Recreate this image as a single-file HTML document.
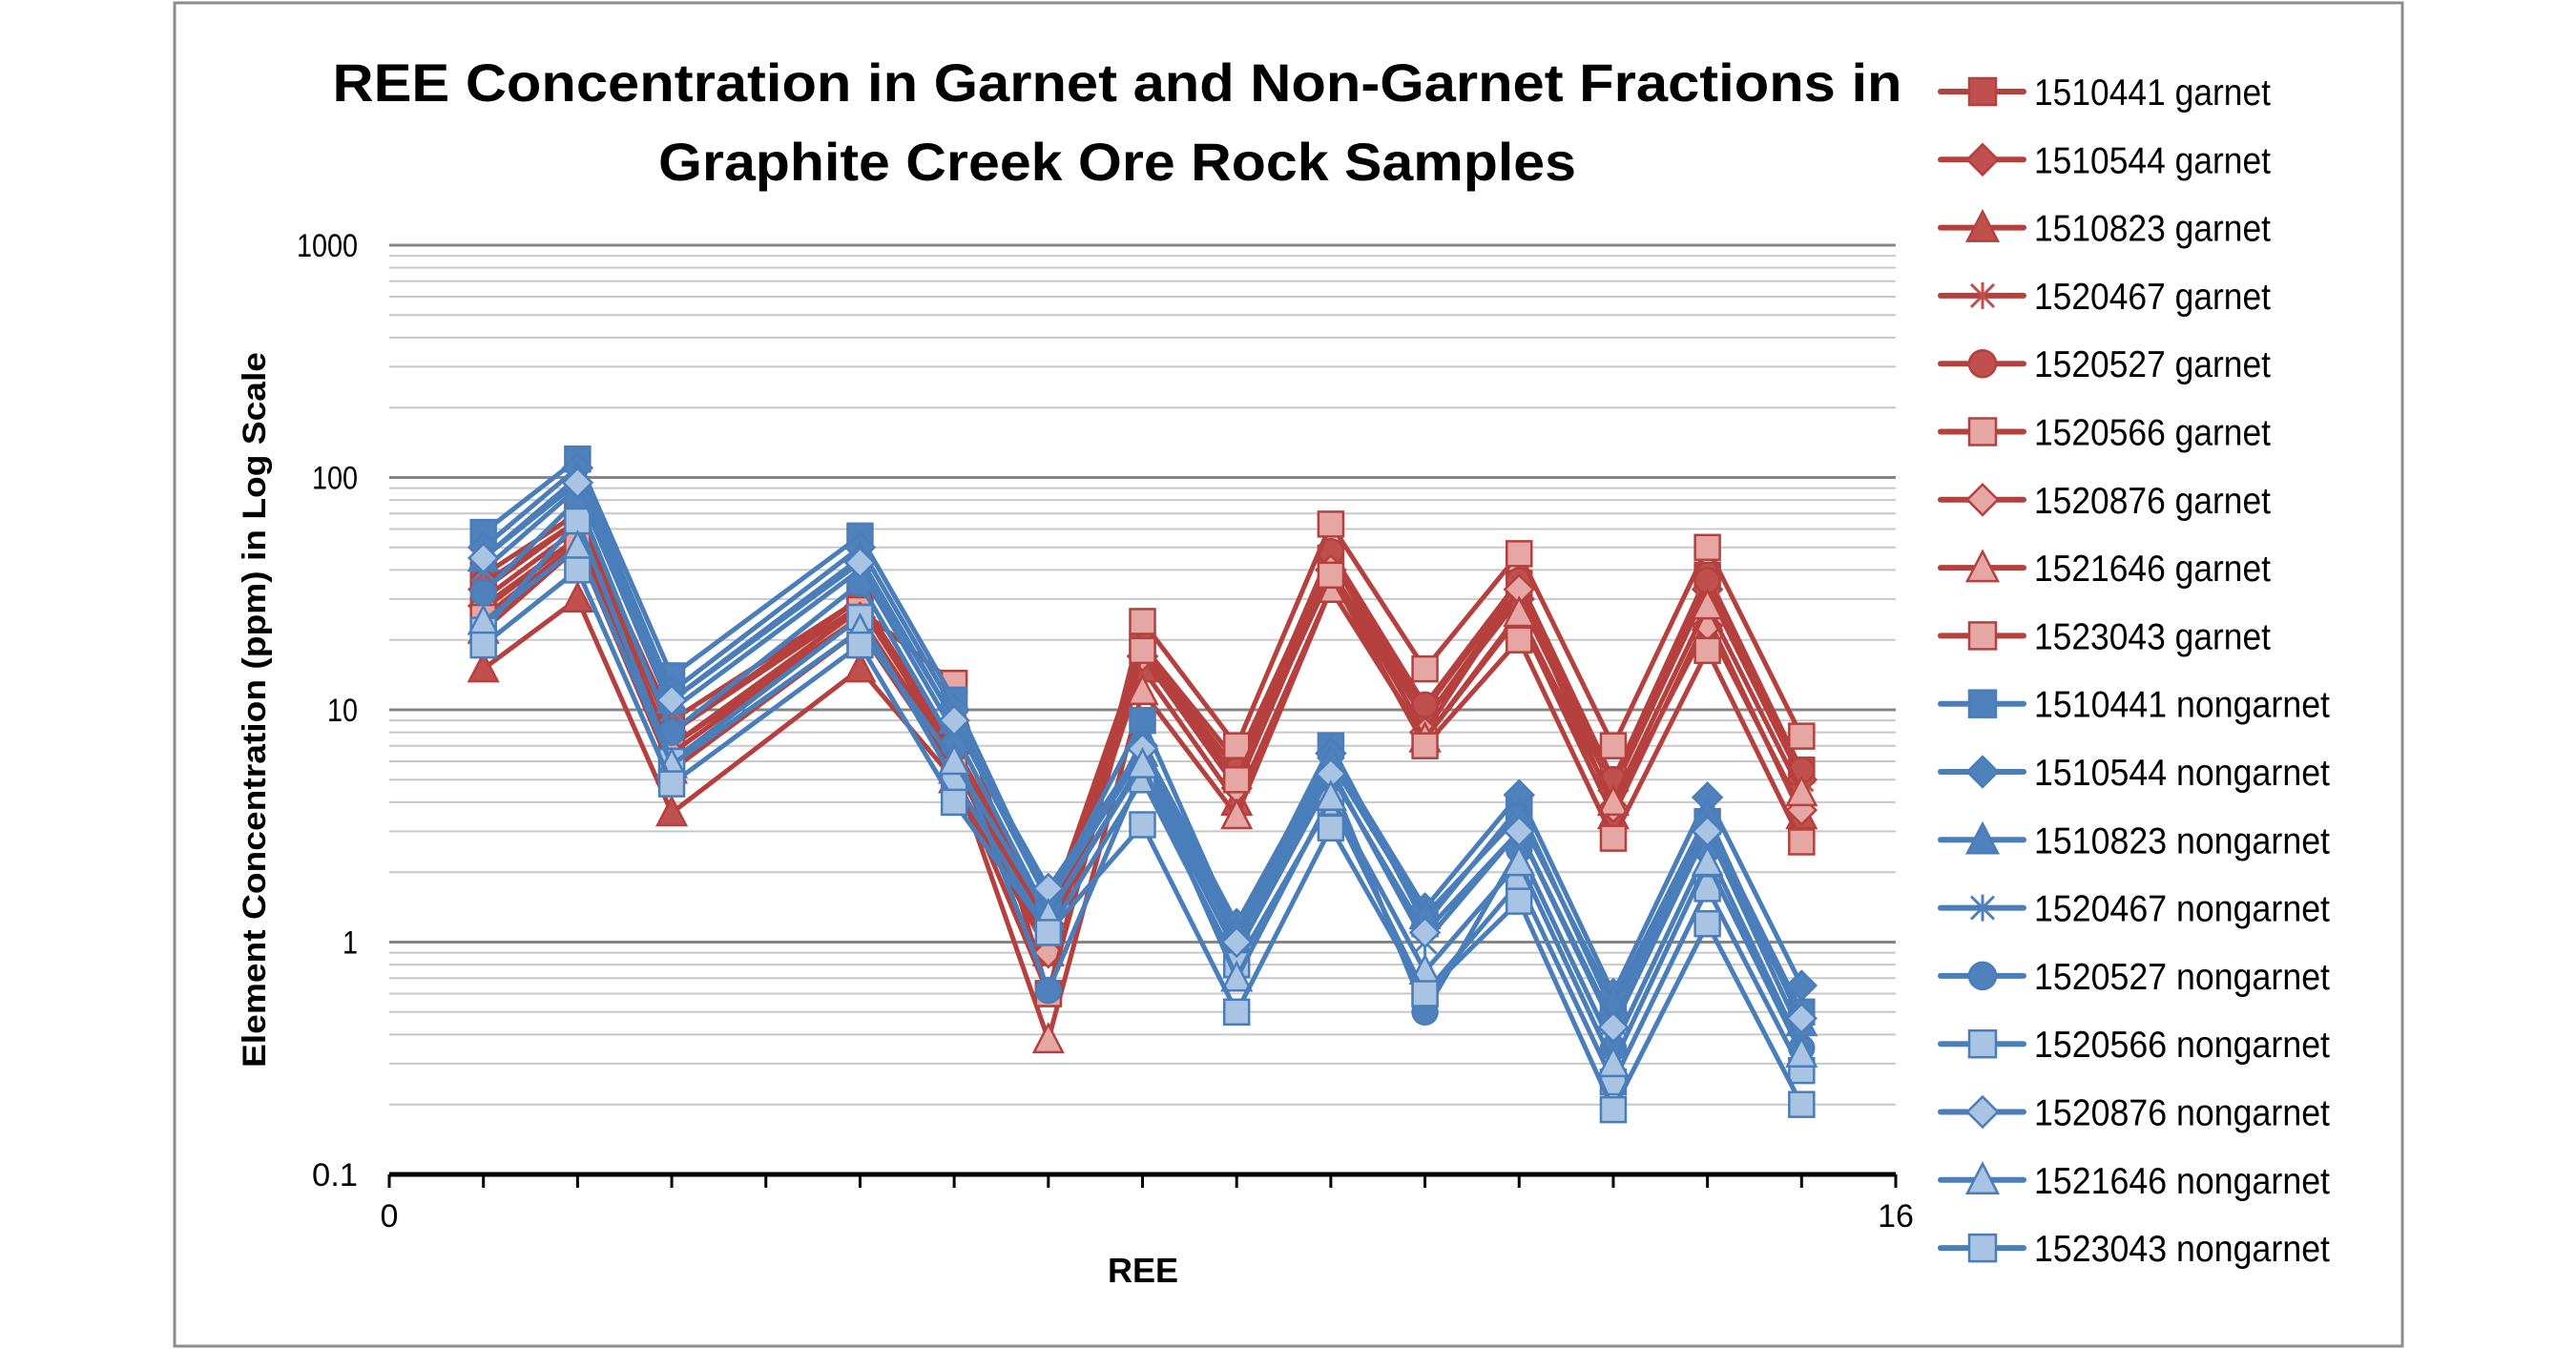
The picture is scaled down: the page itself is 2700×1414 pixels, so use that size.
<!DOCTYPE html>
<html><head><meta charset="utf-8">
<style>
html,body{margin:0;padding:0;background:#fff;}
svg{display:block;}
text{font-family:"Liberation Sans",sans-serif;}
</style></head>
<body>
<svg id="chart" width="2700" height="1414" viewBox="0 0 2700 1414" xmlns="http://www.w3.org/2000/svg">
<rect x="183" y="3" width="2335" height="1408" fill="#fff" stroke="#8c8c8c" stroke-width="3"/>
<text x="1171" y="106" text-anchor="middle" font-size="56" font-weight="bold" textLength="1645" lengthAdjust="spacingAndGlyphs">REE Concentration in Garnet and Non-Garnet Fractions in</text>
<text x="1171" y="189" text-anchor="middle" font-size="56" font-weight="bold" textLength="962" lengthAdjust="spacingAndGlyphs">Graphite Creek Ore Rock Samples</text>
<text transform="translate(278,744) rotate(-90)" text-anchor="middle" font-size="34" font-weight="bold" textLength="750" lengthAdjust="spacingAndGlyphs">Element Concentration (ppm) in Log Scale</text>
<text x="1198" y="1344" text-anchor="middle" font-size="36" font-weight="bold">REE</text>
<g id="grid"></g><g id="axes"></g><g id="series"></g><g id="legend"></g>
</svg>
<script>
const elements = [1,2,3,5,6,7,8,9,10,11,12,13,14,15];
const yTicks = [0.1,1,10,100,1000];
const yTickLabels = ["0.1","1","10","100","1000"];
const xTickLabels = ["0","16"];
const seriesNames = ["1510441 garnet","1510544 garnet","1510823 garnet","1520467 garnet","1520527 garnet","1520566 garnet","1520876 garnet","1521646 garnet","1523043 garnet","1510441 nongarnet","1510544 nongarnet","1510823 nongarnet","1520467 nongarnet","1520527 nongarnet","1520566 nongarnet","1520876 nongarnet","1521646 nongarnet","1523043 nongarnet"];
const g1510441 = [38,70,9,30,7,1.3,19,6,45,10,35,5,38,5.5];
const g1510544 = [33,65,8,28,6.5,1.2,17,5,40,9,30,4.5,33,5];
const g1510823 = [15,30,3.6,15,5,0.9,15,4,33,7.5,25,3.5,25,3.5];
const g1520467 = [30,60,7,25,6,1.1,18,5.5,45,9,33,5,35,5];
const g1520527 = [35,65,8,30,6,1,18,5.5,48,10.5,36,5,36,5.5];
const g1520566 = [27,55,7,27,13,0.6,24,7,63,15,47,7,50,7.7];
const g1520876 = [28,55,6.5,25,6,0.9,17,4.6,40,8,33,3.8,23,3.7];
const g1521646 = [22,50,5.5,22,5.5,0.38,12,3.5,33,7.5,26,4,28,4.4];
const g1523043 = [25,52,6,25,5.5,0.6,18,5,38,7,20,2.8,18,2.7];
const n1510441 = [58,120,14,56,11,1.5,9,1.1,7,1.2,3.8,0.5,3.3,0.5];
const n1510544 = [50,110,12,50,10,1.6,7,1.2,6.5,1.4,4.3,0.6,4.2,0.65];
const n1510823 = [45,100,11,45,9,1.5,6.5,1.1,6,1.3,3.5,0.55,3.5,0.45];
const n1520467 = [40,90,10,40,8,1.3,6,1,5.5,1,3,0.45,3,0.4];
const n1520527 = [32,80,8,35,7,0.62,5.5,0.9,5,0.5,2.5,0.35,2.5,0.35];
const n1520566 = [22,65,6,25,5,1.1,5,0.8,4,0.6,1.8,0.25,1.7,0.28];
const n1520876 = [45,95,11,43,9,1.7,6.8,1,5.3,1.1,3,0.43,3,0.47];
const n1521646 = [24,50,5.8,22,6,1.3,5.8,0.7,4.2,0.75,2.2,0.3,2.2,0.33];
const n1523043 = [19,40,4.8,19,4,1.1,3.2,0.5,3.1,0.6,1.5,0.19,1.2,0.2];
const seriesValues = [g1510441,g1510544,g1510823,g1520467,g1520527,g1520566,g1520876,g1521646,g1523043,n1510441,n1510544,n1510823,n1520467,n1520527,n1520566,n1520876,n1521646,n1523043];

const NS="http://www.w3.org/2000/svg";
const X0=408,X1=1987,Y0=1231,Y1=257;
const xs=v=>X0+(X1-X0)*v/16;
const ys=v=>Y0-(Y0-Y1)*(Math.log10(v)+1)/4;
function mk(tag,attrs,parent){const e=document.createElementNS(NS,tag);for(const k in attrs)e.setAttribute(k,attrs[k]);parent.appendChild(e);return e;}
const grid=document.getElementById('grid'),axes=document.getElementById('axes'),ser=document.getElementById('series'),leg=document.getElementById('legend');

for(let d=-1;d<3;d++){for(let m=2;m<=9;m++){const v=m*Math.pow(10,d);
 const l=mk('line',{x1:X0,x2:X1,y1:ys(v),y2:ys(v),stroke:'#c8c8c8','stroke-width':2},grid);
 
 }}
yTicks.forEach((v,i)=>{
 if(i>0){const l=mk('line',{x1:X0,x2:X1,y1:ys(v),y2:ys(v),stroke:'#868686','stroke-width':3},grid);
 
 }
 const t=mk('text',{x:375,y:ys(v)+12,'text-anchor':'end','font-size':34,textLength:yTickLabels[i].length*16,lengthAdjust:'spacingAndGlyphs'},axes);
 t.textContent=yTickLabels[i];
 
 
});
const ax=mk('line',{x1:X0,x2:X1,y1:Y0,y2:Y0,stroke:'#000','stroke-width':5},axes);


for(let i=0;i<=16;i++){const t=mk('line',{x1:xs(i),x2:xs(i),y1:Y0,y2:Y0+14,stroke:'#000','stroke-width':3},axes);
 
 }
[0,16].forEach((v,i)=>{const t=mk('text',{x:xs(v),y:1286,'text-anchor':'middle','font-size':34},axes);
 t.textContent=xTickLabels[i];
 
 });

const shapes=['square','diamond','triangle','star','circle','square','diamond','triangle','square'];
const light=[false,false,false,false,false,true,true,true,true];
function marker(p,shape,cx,cy,fill,stroke,s){
 let e;
 if(shape==='square')e=mk('rect',{x:cx-s/2,y:cy-s/2,width:s,height:s,fill,stroke,'stroke-width':2.5},p);
 else if(shape==='diamond')e=mk('polygon',{points:`${cx},${cy-s/2-2} ${cx+s/2+2},${cy} ${cx},${cy+s/2+2} ${cx-s/2-2},${cy}`,fill,stroke,'stroke-width':2.5},p);
 else if(shape==='triangle')e=mk('polygon',{points:`${cx},${cy-s/2-3} ${cx+s/2+2},${cy+s/2} ${cx-s/2-2},${cy+s/2}`,fill,stroke,'stroke-width':2.5},p);
 else if(shape==='circle')e=mk('circle',{cx,cy,r:s/2,fill,stroke,'stroke-width':2.5},p);
 else {e=mk('path',{d:`M${cx-12},${cy-12}L${cx+12},${cy+12}M${cx+12},${cy-12}L${cx-12},${cy+12}M${cx},${cy-14}L${cx},${cy+14}`,stroke:fill,'stroke-width':3,fill:'none'},p);}
 return e;
}
seriesValues.forEach((vals,si)=>{
 const garnet=si<9,k=si%9;
 const line=garnet?'#b5403d':'#4a7ebb';
 const fill=garnet?(light[k]?'#e6a6a4':'#c0504d'):(light[k]?'#a9c3e3':'#4f81bd');
 const stroke=garnet?'#b5403d':'#4a7ebb';
 const g=mk('g',{},ser);
 
 
 const pts=vals.map((v,i)=>xs(elements[i])+','+ys(v)).join(' ');
 mk('polyline',{points:pts,fill:'none',stroke:line,'stroke-width':5,'stroke-linejoin':'round'},g);
 vals.forEach((v,i)=>{const m=marker(g,shapes[k],xs(elements[i]),ys(v),fill,stroke,26);
  
  });
 const y=96+si*71.3;
 const lg=mk('g',{},leg);
 
 
 mk('line',{x1:2034,x2:2121,y1:y,y2:y,stroke:line,'stroke-width':6,'stroke-linecap':'round'},lg);
 marker(lg,shapes[k],2078,y,fill,stroke,28);
 const t=mk('text',{x:2132,y:y+14,'font-size':39,textLength:garnet?248:310,lengthAdjust:'spacingAndGlyphs'},lg);
 t.textContent=seriesNames[si];
});
</script>
</body></html>
